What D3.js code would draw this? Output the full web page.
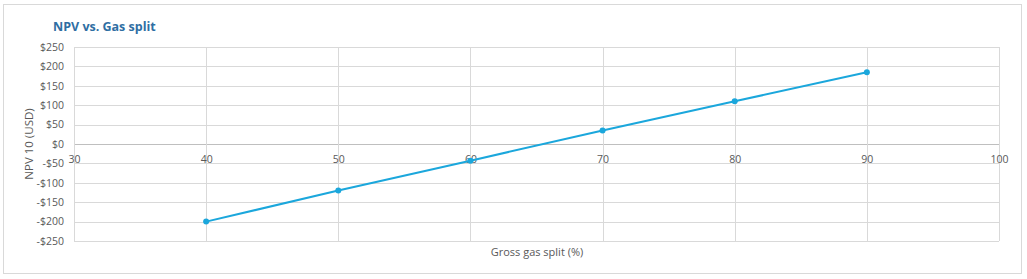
<!DOCTYPE html>
<html>
<head>
<meta charset="utf-8">
<script src="https://cdn.jsdelivr.net/npm/d3@7"></script>
<style>
  body { margin: 0; background: #fff; font-family: "Open Sans", sans-serif; }
  .tick text { fill: #595959; font-size: 10.5px; font-family: "Open Sans", sans-serif; }
</style>
</head>
<body>
<div id="chart"></div>
<script>
// data
var gasSplit = [40, 50, 60, 70, 80, 90];
var npv = [-200, -120, -43, 35, 110, 185];
var xTicks = [30, 40, 50, 60, 70, 80, 90, 100];
var yTicks = [-250, -200, -150, -100, -50, 0, 50, 100, 150, 200, 250];

var width = 1027, height = 279;
var margin = {top: 47, right: 28, bottom: 38, left: 74};

var svg = d3.select("#chart").append("svg")
  .attr("width", width)
  .attr("height", height);

// outer border
svg.append("rect")
  .attr("x", 3.5).attr("y", 4.5)
  .attr("width", 1018).attr("height", 269)
  .attr("fill", "#fff").attr("stroke", "#d9d9d9");

var xScale = d3.scaleLinear().domain([30, 100]).range([margin.left, width - margin.right]);
var yScale = d3.scaleLinear().domain([-250, 250]).range([height - margin.bottom, margin.top]);

// gridlines
svg.append("g").selectAll("line.h")
  .data(yTicks).enter().append("line")
  .attr("x1", xScale(30)).attr("x2", xScale(100))
  .attr("y1", function(d){ return Math.round(yScale(d)) + 0.5; })
  .attr("y2", function(d){ return Math.round(yScale(d)) + 0.5; })
  .attr("stroke", function(d){ return d == 0 ? "#bfbfbf" : "#d9d9d9"; });

svg.append("g").selectAll("line.v")
  .data(xTicks).enter().append("line")
  .attr("y1", yScale(250)).attr("y2", yScale(-250))
  .attr("x1", function(d){ return Math.round(xScale(d)) + 0.5; })
  .attr("x2", function(d){ return Math.round(xScale(d)) + 0.5; })
  .attr("stroke", "#d9d9d9");

// y axis labels
var yAxis = d3.axisLeft(yScale).tickValues(yTicks).tickSize(0).tickPadding(10)
  .tickFormat(function(d){ return (d < 0 ? "-$" : "$") + Math.abs(d); });
var yAxisGroup = svg.append("g")
  .attr("transform", "translate(" + xScale(30) + ",0)")
  .call(yAxis);
yAxisGroup.select(".domain").remove();

// x axis labels sit at y = 0
var xAxis = d3.axisBottom(xScale).tickValues(xTicks).tickSize(0).tickPadding(12);
var xAxisGroup = svg.append("g")
  .attr("transform", "translate(0," + yScale(0) + ")")
  .call(xAxis);
xAxisGroup.select(".domain").remove();

// line
var line = d3.line()
  .x(function(d, i){ return xScale(gasSplit[i]); })
  .y(function(d){ return yScale(d); });

svg.append("path")
  .datum(npv)
  .attr("d", line)
  .attr("fill", "none")
  .attr("stroke", "#1ba7dc")
  .attr("stroke-width", 2);

svg.selectAll("circle.pt")
  .data(npv).enter().append("circle")
  .attr("cx", function(d, i){ return xScale(gasSplit[i]); })
  .attr("cy", function(d){ return yScale(d); })
  .attr("r", 3)
  .attr("fill", "#1ba7dc");

// title
svg.append("text")
  .attr("x", 53).attr("y", 31)
  .attr("fill", "#2f6ea3")
  .attr("font-size", "12.5px")
  .attr("font-weight", "bold")
  .text("NPV vs. Gas split");

// axis titles
svg.append("text")
  .attr("transform", "translate(33," + yScale(0) + ") rotate(-90)")
  .attr("text-anchor", "middle")
  .attr("fill", "#595959")
  .attr("font-size", "11.5px")
  .text("NPV 10 (USD)");

svg.append("text")
  .attr("x", 537).attr("y", 256)
  .attr("text-anchor", "middle")
  .attr("fill", "#595959")
  .attr("font-size", "11px")
  .text("Gross gas split (%)");
</script>
</body>
</html>
